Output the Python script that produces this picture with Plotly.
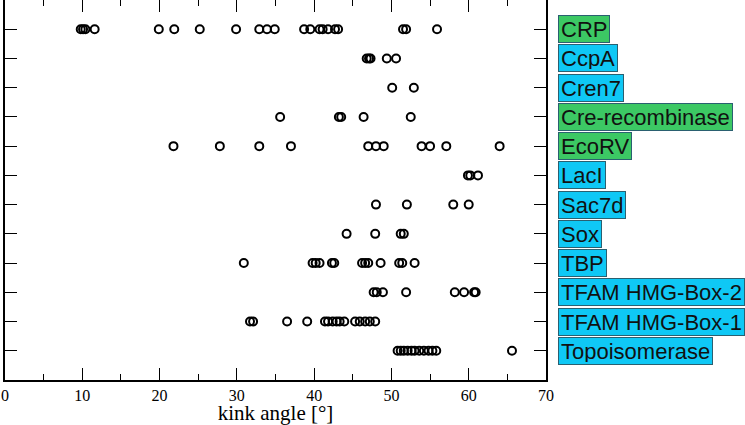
import plotly.graph_objects as go

proteins = ["CRP", "CcpA", "Cren7", "Cre-recombinase", "EcoRV", "LacI", "Sac7d",
            "Sox", "TBP", "TFAM HMG-Box-2", "TFAM HMG-Box-1", "Topoisomerase"]
groups = ["green", "blue", "blue", "green", "green", "blue", "blue",
          "blue", "blue", "blue", "blue", "blue"]

crp = [9.8, 10.1, 10.4, 11.6, 19.9, 21.9, 25.2, 29.9, 32.9, 33.9, 34.9, 38.7, 39.5,
       40.7, 41.1, 41.8, 42.7, 43.1, 51.5, 51.9, 55.9]
ccpa = [46.8, 47.1, 47.3, 49.4, 50.6]
cren7 = [50.1, 52.9]
cre = [35.6, 43.2, 43.5, 46.4, 52.5]
ecorv = [21.8, 27.8, 32.9, 37.0, 47.0, 48.0, 49.0, 53.9, 55.0, 57.1, 64.0]
laci = [59.9, 60.2, 61.2]
sac7d = [48.0, 52.0, 58.0, 60.0]
sox = [44.2, 47.9, 51.2, 51.6]
tbp = [30.9, 39.8, 40.2, 40.7, 42.3, 42.6, 46.2, 46.6, 47.0, 48.6, 51.0, 51.4, 53.0]
tfam2 = [47.7, 48.1, 48.9, 51.9, 58.2, 59.4, 60.7, 60.9]
tfam1 = [31.7, 32.1, 36.5, 39.1, 41.4, 41.8, 42.4, 42.9, 43.3, 43.9, 45.3, 45.9,
         46.6, 47.2, 47.9]
topo = [50.8, 51.2, 51.6, 52.1, 52.6, 53.0, 53.6, 54.2, 54.8, 55.3, 55.8, 65.6]

values = [crp, ccpa, cren7, cre, ecorv, laci, sac7d, sox, tbp, tfam2, tfam1, topo]

x_ticks = [0, 10, 20, 30, 40, 50, 60, 70]

color_map = {"green": "#3cc864", "blue": "#0fc8f5"}

n = len(proteins)
rows = [n - i for i in range(n)]  # CRP at top

fig = go.Figure()
for name, vals, r in zip(proteins, values, rows):
    fig.add_trace(go.Scatter(
        x=vals, y=[r] * len(vals), mode="markers", name=name,
        marker=dict(symbol="circle-open", size=8, color="black",
                    line=dict(width=2, color="black")),
        showlegend=False, hoverinfo="x+name",
    ))

for name, grp, r in zip(proteins, groups, rows):
    fig.add_annotation(
        x=1, xref="paper", xshift=12, xanchor="left",
        y=r, yref="y", yanchor="middle",
        text=name, showarrow=False, height=22, valign="middle",
        font=dict(family="Liberation Sans, Arial, sans-serif", size=22, color="#111111"),
        bgcolor=color_map[grp], bordercolor="#2a6070", borderwidth=1, borderpad=2,
    )

fig.update_xaxes(
    range=[0, 70], tickvals=x_ticks, ticktext=[str(v) for v in x_ticks],
    ticks="inside", ticklen=12, tickwidth=1.3, tickcolor="black",
    showline=True, linecolor="black", linewidth=1.5, mirror="allticks",
    showgrid=False, zeroline=False, automargin=False,
    minor=dict(dtick=5, tick0=0, ticks="inside", ticklen=6, tickwidth=1.3, tickcolor="black"),
    tickfont=dict(family="Liberation Serif, Times New Roman, serif", size=16, color="black"),
    title=dict(text="kink angle [°]",
               font=dict(family="Liberation Serif, Times New Roman, serif", size=21, color="black")),
)
fig.update_yaxes(
    range=[0, n + 1], tickvals=rows, showticklabels=False,
    ticks="inside", ticklen=12, tickwidth=1.3, tickcolor="black",
    showline=True, linecolor="black", linewidth=1.5, mirror="allticks",
    showgrid=False, zeroline=False, automargin=False,
)

fig.update_layout(
    width=745, height=425,
    margin=dict(l=5, r=199, t=0, b=45, autoexpand=False),
    plot_bgcolor="white", paper_bgcolor="white",
)

fig.write_html("out.html", config={"displayModeBar": False},
               post_script="document.body.style.margin='0';document.body.style.overflow='hidden';")
